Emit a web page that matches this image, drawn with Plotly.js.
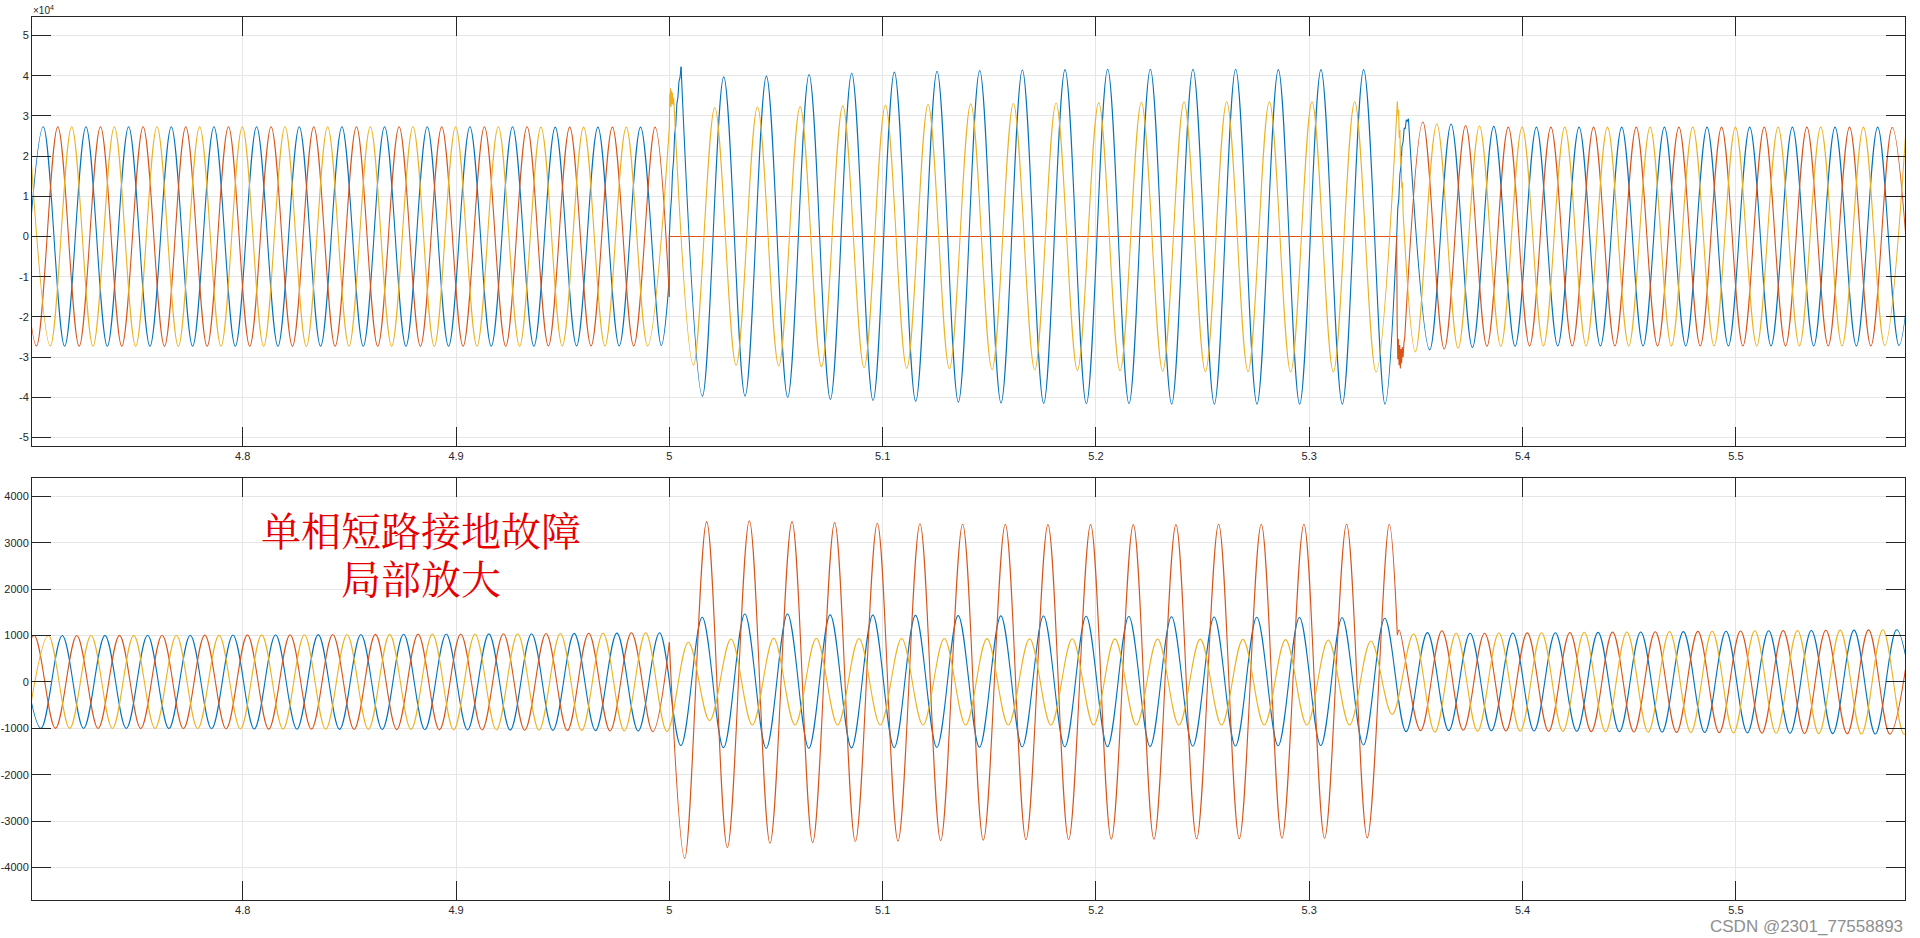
<!DOCTYPE html>
<html>
<head>
<meta charset="utf-8">
<script src="https://cdn.plot.ly/plotly-3.0.1.min.js"></script>
<style>
html,body{margin:0;padding:0;background:#fff;}
#chart{width:1920px;height:938px;}
</style>
</head>
<body>
<div id="chart"></div>
<script>
// ---------------- DATA (extrema; null = break) ----------------
// Top panel (voltage, x10^4), phase A = blue, B = red, C = yellow
const topA_t = [
4.6965,4.7065,4.7165,4.7265,4.7365,4.7465,4.7565,4.7665,4.7765,4.7865,
4.7965,4.8065,4.8165,4.8265,4.8365,4.8465,4.8565,4.8665,4.8765,4.8865,
4.8965,4.9065,4.9165,4.9265,4.9365,4.9465,4.9565,4.9665,4.9765,4.9865,
4.9962,5.0000,null,
5.0055,5.0155,5.0255,5.0355,5.0455,5.0555,5.0655,5.0755,5.0855,5.0955,
5.1055,5.1155,5.1255,5.1355,5.1455,5.1555,5.1655,5.1755,5.1855,5.1955,
5.2055,5.2155,5.2255,5.2355,5.2455,5.2555,5.2655,5.2755,5.2855,5.2955,
5.3055,5.3155,5.3255,5.3355,5.3410,null,
5.3465,5.3565,5.3665,5.3765,5.3865,5.3965,5.4065,5.4165,5.4265,5.4365,
5.4465,5.4565,5.4665,5.4765,5.4865,5.4965,5.5065,5.5165,5.5265,5.5365,
5.5465,5.5565,5.5665,5.5765,5.5865];
const topA_v = [
-27200,27300,-27300,27300,-27300,27300,-27300,27300,-27300,27300,
-27300,27300,-27300,27300,-27300,27300,-27300,27300,-27300,27300,
-27300,27300,-27300,27300,-27300,27200,-27200,27200,-27200,27200,
-27100,-10200,null,
42200,-39700,39700,-39700,39900,-40000,40300,-40500,40600,-40800,
40900,-41000,41100,-41200,41300,-41400,41400,-41500,41500,-41600,
41600,-41600,41600,-41700,41600,-41700,41600,-41700,41500,-41700,
41500,-41700,41500,-41700,0,null,
29300,-28200,28000,-27600,27400,-27300,27200,-27200,27200,-27200,
27200,-27200,27200,-27200,27200,-27200,27200,-27200,27200,-27200,
27200,-27200,27200,-27100,27100];
const topA_noise_t = [5.0,5.0,5.0005,5.0010,5.0015,5.0020,5.0025,5.0030,5.0035,5.0040,5.0045,5.0050,5.0055,null,
5.3410,5.3415,5.3420,5.3425,5.3430,5.3435,5.3440,5.3445,5.3450,5.3455,5.3460,5.3465];
const topA_noise_v = [-10200,0,6000,9500,16000,19000,25500,27500,33000,34500,38500,39500,42200,null,
0,7000,9500,15500,17500,22500,23500,27000,26800,29000,28600,29300];

const topB_t = [
4.6933,4.7033,4.7133,4.7233,4.7333,4.7433,4.7533,4.7633,4.7733,4.7833,
4.7933,4.8033,4.8133,4.8233,4.8333,4.8433,4.8533,4.8633,4.8733,4.8833,
4.8933,4.9033,4.9133,4.9233,4.9333,4.9433,4.9533,4.9633,4.9733,4.9833,
4.9933,5.0000,null,
5.3448,5.3533,5.3633,5.3733,5.3833,5.3933,5.4033,5.4133,5.4233,5.4333,
5.4433,5.4533,5.4633,5.4733,5.4833,5.4933,5.5033,5.5133,5.5233,5.5333,
5.5433,5.5533,5.5633,5.5733,5.5833];
const topB_v = [
27200,-27200,27300,-27300,27300,-27300,27300,-27300,27300,-27300,
27300,-27300,27300,-27300,27300,-27300,27300,-27300,27300,-27300,
27300,-27300,27300,-27300,27300,-27200,27200,-27200,27200,-27200,
27200,-15000,null,
-25000,28500,-28000,27600,-27300,27200,-27200,27200,-27200,27200,
-27200,27200,-27200,27200,-27200,27200,-27200,27200,-27200,27200,
-27200,27200,-27200,27100,-27100];
const topB_noise_t = [5.0,5.0,5.3410,5.3412,5.3415,5.3418,5.3421,5.3424,5.3427,5.3430,5.3433,5.3436,5.3440,5.3444,5.3448];
const topB_noise_v = [-15000,0,0,-21000,-30500,-25500,-32000,-27000,-32800,-28000,-31500,-27500,-30000,-26500,-25000];

const topC_t = [
4.6998,4.7098,4.7198,4.7298,4.7398,4.7498,4.7598,4.7698,4.7798,4.7898,
4.7998,4.8098,4.8198,4.8298,4.8398,4.8498,4.8598,4.8698,4.8798,4.8898,
4.8998,4.9098,4.9198,4.9298,4.9398,4.9498,4.9598,4.9698,4.9798,4.9898,
5.0000,null,
5.0023,5.0113,5.0213,5.0313,5.0413,5.0513,5.0613,5.0713,5.0813,5.0913,
5.1013,5.1113,5.1213,5.1313,5.1413,5.1513,5.1613,5.1713,5.1813,5.1913,
5.2013,5.2113,5.2213,5.2313,5.2413,5.2513,5.2613,5.2713,5.2813,5.2913,
5.3013,5.3113,5.3213,5.3313,5.3413,null,
5.3440,5.3498,5.3598,5.3698,5.3798,5.3898,5.3998,5.4098,5.4198,5.4298,
5.4398,5.4498,5.4598,5.4698,5.4798,5.4898,5.4998,5.5098,5.5198,5.5298,
5.5398,5.5498,5.5598,5.5698,5.5798];
const topC_v = [
27200,-27200,27300,-27300,27300,-27300,27300,-27300,27300,-27300,
27300,-27300,27300,-27300,27300,-27300,27300,-27300,27300,-27300,
27300,-27300,27300,-27300,27200,-27200,27200,-27200,27200,-27200,
27200,null,
32000,-32000,32100,-32000,32200,-32200,32300,-32400,32500,-32600,
32700,-32800,32800,-32900,33000,-33100,33100,-33200,33200,-33300,
33300,-33400,33400,-33500,33500,-33600,33500,-33600,33500,-33700,
33500,-33700,33500,-33700,33500,null,
6000,-28700,28000,-27800,27500,-27300,27200,-27200,27200,-27200,
27200,-27200,27200,-27200,27200,-27200,27200,-27200,27200,-27200,
27200,-27200,27200,-27100,27100];
const topC_noise_t = [5.0,5.0002,5.0004,5.0006,5.0008,5.0010,5.0012,5.0014,5.0017,5.0020,5.0023,null,
5.3413,5.3416,5.3419,5.3422,5.3425,5.3428,5.3431,5.3434,5.3437,5.3440];
const topC_noise_v = [27200,35500,32500,36900,32200,36200,33000,35800,32800,34600,32000,null,
33500,30000,31500,24500,26500,18000,20000,12000,13500,6000];

// Bottom panel (current)
const botA_t = [
4.6954,4.7054,4.7154,4.7254,4.7354,4.7454,4.7554,4.7654,4.7754,4.7854,
4.7954,4.8054,4.8154,4.8254,4.8354,4.8454,4.8554,4.8654,4.8754,4.8854,
4.8954,4.9054,4.9154,4.9254,4.9354,4.9454,4.9554,4.9654,4.9754,4.9854,
4.9954,5.0054,5.0154,5.0254,5.0354,5.0454,5.0554,5.0654,5.0754,5.0854,
5.0954,5.1054,5.1154,5.1254,5.1354,5.1454,5.1554,5.1654,5.1754,5.1854,
5.1954,5.2054,5.2154,5.2254,5.2354,5.2454,5.2554,5.2654,5.2754,5.2854,
5.2954,5.3054,5.3154,5.3254,5.3354,5.3454,5.3554,5.3654,5.3754,5.3854,
5.3954,5.4054,5.4154,5.4254,5.4354,5.4454,5.4554,5.4654,5.4754,5.4854,
5.4954,5.5054,5.5154,5.5254,5.5354,5.5454,5.5554,5.5654,5.5754,5.5854];
const botA_v = [
1000,-1000,1000,-1002,1003,-1004,1005,-1006,1008,-1010,
1012,-1014,1016,-1018,1020,-1022,1024,-1026,1028,-1030,
1032,-1034,1036,-1038,1040,-1043,1046,-1049,1052,-1056,
1060,-1372,1394,-1416,1466,-1430,1466,-1430,1445,-1420,
1440,-1415,1435,-1410,1430,-1405,1425,-1400,1420,-1400,
1415,-1395,1410,-1390,1405,-1385,1400,-1380,1395,-1375,
1390,-1370,1385,-1358,1372,-1071,1063,-1050,1050,-1052,
1055,-1058,1060,-1064,1068,-1072,1076,-1080,1085,-1090,
1094,-1098,1102,-1106,1110,-1114,1118,-1122,1125,-1128];

const botB_t = [
4.6922,4.7022,4.7122,4.7222,4.7322,4.7422,4.7522,4.7622,4.7722,4.7822,
4.7922,4.8022,4.8122,4.8222,4.8322,4.8422,4.8522,4.8622,4.8722,4.8822,
4.8922,4.9022,4.9122,4.9222,4.9322,4.9422,4.9522,4.9622,4.9722,4.9822,
4.9922,5.0000,null,
5.0000,5.0072,5.0175,5.0272,5.0375,5.0472,5.0575,5.0672,5.0775,5.0872,
5.0975,5.1072,5.1175,5.1272,5.1375,5.1472,5.1575,5.1672,5.1775,5.1872,
5.1975,5.2072,5.2175,5.2272,5.2375,5.2472,5.2575,5.2672,5.2775,5.2872,
5.2975,5.3072,5.3175,5.3272,5.3375,5.3413,null,
5.3413,5.3422,5.3522,5.3622,5.3722,5.3822,5.3922,5.4022,5.4122,5.4222,
5.4322,5.4422,5.4522,5.4622,5.4722,5.4822,5.4922,5.5022,5.5122,5.5222,
5.5322,5.5422,5.5522,5.5622,5.5722,5.5822];
const botB_v = [
-1000,1000,-1001,1002,-1003,1004,-1005,1006,-1008,1010,
-1012,1014,-1016,1018,-1020,1022,-1024,1026,-1028,1030,
-1032,1034,-1036,1038,-1041,1044,-1047,1050,-1054,1060,
-1070,855,null,
855,-3800,3455,-3570,3476,-3477,3455,-3463,3434,-3440,
3420,-3430,3410,-3420,3400,-3410,3400,-3400,3390,-3400,
3390,-3390,3390,-3390,3390,-3380,3400,-3380,3400,-3370,
3400,-3370,3400,-3360,3400,1013,null,
1013,1120,-1050,1105,-1040,1050,-1055,1058,-1062,1066,
-1070,1074,-1078,1082,-1086,1090,-1094,1098,-1102,1106,
-1110,1114,-1118,1122,-1125,1128];

const botC_t = [
4.6989,4.7089,4.7189,4.7289,4.7389,4.7489,4.7589,4.7689,4.7789,4.7889,
4.7989,4.8089,4.8189,4.8289,4.8389,4.8489,4.8589,4.8689,4.8789,4.8889,
4.8989,4.9089,4.9189,4.9289,4.9389,4.9489,4.9589,4.9689,4.9789,4.9889,
4.9989,5.0089,5.0189,5.0289,5.0389,5.0489,5.0589,5.0689,5.0789,5.0889,
5.0989,5.1089,5.1189,5.1289,5.1389,5.1489,5.1589,5.1689,5.1789,5.1889,
5.1989,5.2089,5.2189,5.2289,5.2389,5.2489,5.2589,5.2689,5.2789,5.2889,
5.2989,5.3089,5.3189,5.3289,5.3389,5.3489,5.3589,5.3689,5.3789,5.3889,
5.3989,5.4089,5.4189,5.4289,5.4389,5.4489,5.4589,5.4689,5.4789,5.4889,
5.4989,5.5089,5.5189,5.5289,5.5389,5.5489,5.5589,5.5689,5.5789,5.5889];
const botC_v = [
-1000,1000,-1001,1002,-1003,1004,-1005,1006,-1008,1010,
-1012,1014,-1016,1018,-1020,1022,-1024,1026,-1028,1030,
-1032,1034,-1036,1038,-1041,1044,-1047,1050,-1054,1060,
-1070,855,-834,927,-927,941,-927,941,-927,938,
-928,936,-928,935,-928,933,-928,932,-928,930,
-928,928,-928,925,-928,922,-928,918,-928,912,
-928,905,-926,883,-700,1034,-1080,1050,-1060,1055,
-1060,1062,-1066,1070,-1074,1078,-1082,1086,-1090,1094,
-1098,1102,-1106,1110,-1114,1118,-1122,1125,-1128,1130];

// axis ticks
const xTickVals = [4.8,4.9,5.0,5.1,5.2,5.3,5.4,5.5];
const xTickText = ['4.8','4.9','5','5.1','5.2','5.3','5.4','5.5'];
const topYTickVals = [-50000,-40000,-30000,-20000,-10000,0,10000,20000,30000,40000,50000];
const topYTickText = ['-5','-4','-3','-2','-1','0','1','2','3','4','5'];
const botYTickVals = [-4000,-3000,-2000,-1000,0,1000,2000,3000,4000];
const botYTickText = ['-4000','-3000','-2000','-1000','0','1000','2000','3000','4000'];

const annoLine1 = '单相短路接地故障';
const annoLine2 = '局部放大';
const watermark = 'CSDN @2301_77558893';

// ---------------- STYLE ----------------
const BLUE = '#0072BD', RED = '#D95319', YEL = '#EDB120';
const LW = 1.1;

const traces = [];
function addSeries(xa, ya, st, sv, nt, nv, color) {
  traces.push({x: st, y: sv, xaxis: xa, yaxis: ya, type: 'scatter', mode: 'lines',
    connectgaps: false, hoverinfo: 'skip',
    line: {color: color, width: LW, shape: 'spline', smoothing: 1, simplify: false}});
  if (nt) {
    traces.push({x: nt, y: nv, xaxis: xa, yaxis: ya, type: 'scatter', mode: 'lines',
      connectgaps: false, hoverinfo: 'skip',
      line: {color: color, width: LW, shape: 'linear', simplify: false}});
  }
}
addSeries('x', 'y', topA_t, topA_v, topA_noise_t, topA_noise_v, BLUE);
addSeries('x', 'y', topB_t, topB_v, topB_noise_t, topB_noise_v, RED);
addSeries('x', 'y', topC_t, topC_v, topC_noise_t, topC_noise_v, YEL);
addSeries('x2', 'y2', botA_t, botA_v, null, null, BLUE);
addSeries('x2', 'y2', botB_t, botB_v, null, null, RED);
addSeries('x2', 'y2', botC_t, botC_v, null, null, YEL);

const tickFont = {family: 'Liberation Sans, Arial, Helvetica, sans-serif', size: 11, color: '#262626'};
function axis(extra) {
  return Object.assign({
    showline: true, linecolor: '#262626', linewidth: 1, mirror: 'ticks',
    ticks: 'inside', ticklen: 19, tickwidth: 1, tickcolor: '#262626',
    showgrid: true, gridcolor: '#e6e6e6', gridwidth: 1, zeroline: false,
    tickfont: tickFont, fixedrange: true, tickmode: 'array'
  }, extra);
}
const XR = [4.7012, 5.5793];
const cjkFont = {family: "'Noto Serif CJK SC','Noto Sans CJK SC',serif", size: 40, color: '#e60000'};

const layout = {
  width: 1920, height: 938,
  margin: {l: 32, r: 15, t: 17, b: 38, pad: 0},
  paper_bgcolor: '#ffffff', plot_bgcolor: '#ffffff',
  showlegend: false,
  font: tickFont,
  xaxis: axis({domain: [0, 1], range: XR, anchor: 'y', tickvals: xTickVals, ticktext: xTickText}),
  yaxis: axis({domain: [0.5142, 1], range: [-52100, 54600], anchor: 'x', tickvals: topYTickVals, ticktext: topYTickText}),
  xaxis2: axis({domain: [0, 1], range: XR, anchor: 'y2', tickvals: xTickVals, ticktext: xTickText}),
  yaxis2: axis({domain: [0, 0.4776], range: [-4700, 4390], anchor: 'x2', tickvals: botYTickVals, ticktext: botYTickText}),
  annotations: [
    {text: '×10<sup>4</sup>', xref: 'paper', yref: 'paper', x: 0, y: 1, xanchor: 'left', yanchor: 'bottom',
     showarrow: false, font: {family: tickFont.family, size: 10, color: '#262626'}, borderpad: 0},
    {text: annoLine1, xref: 'x2', yref: 'y2', x: 4.8834, y: 3297, xanchor: 'center', yanchor: 'middle',
     showarrow: false, borderpad: 0, font: cjkFont},
    {text: annoLine2, xref: 'x2', yref: 'y2', x: 4.8834, y: 2269, xanchor: 'center', yanchor: 'middle',
     showarrow: false, borderpad: 0, font: cjkFont},
    {text: watermark, xref: 'paper', yref: 'paper', x: 1, y: -0.0295, xanchor: 'right', yanchor: 'middle',
     showarrow: false, font: {family: 'Liberation Sans, Arial, sans-serif', size: 17, color: '#8f8f8f'}}
  ]
};

Plotly.newPlot('chart', traces, layout, {displayModeBar: false, staticPlot: true});
</script>
</body>
</html>
